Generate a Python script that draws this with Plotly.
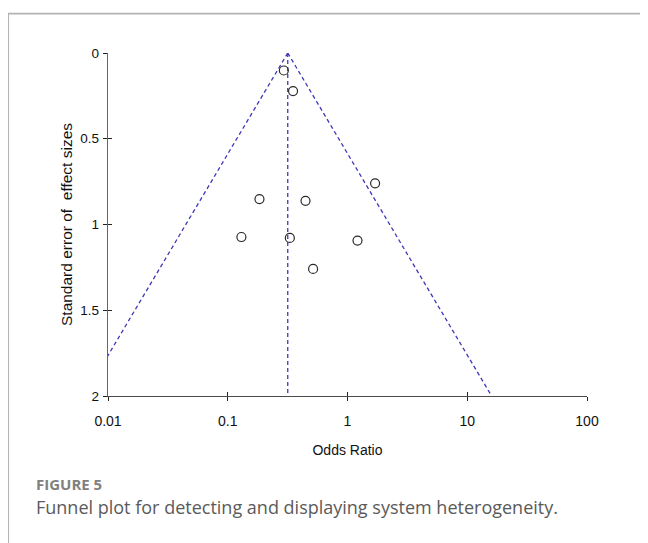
import plotly.graph_objects as go
import numpy as np

# ---- data ----
odds_ratio = [0.294, 0.351, 1.70, 0.184, 0.446, 0.130, 0.330, 1.212, 0.516]
std_error = [0.102, 0.222, 0.760, 0.852, 0.862, 1.073, 1.078, 1.094, 1.259]
pooled_or = 0.317
se_limits = [0.0, 2.0]
x_tick_vals = [0.01, 0.1, 1, 10, 100]
x_tick_text = ["0.01", "0.1", "1", "10", "100"]
y_tick_vals = [0, 0.5, 1, 1.5, 2]
y_tick_text = ["0", "0.5", "1", "1.5", "2"]

# funnel (95% pseudo-confidence limits)
z = 1.96
left_x = [pooled_or * np.exp(-z * s) for s in se_limits]
right_x = [pooled_or * np.exp(z * s) for s in se_limits]

line_col = "#3d38b8"
dash = "4px,3px"
axis_col = "#4a4a4a"
chart_font = "Liberation Sans, Arial, sans-serif"

fig = go.Figure()
for xs in (left_x, right_x, [pooled_or, pooled_or]):
    fig.add_trace(go.Scatter(x=xs, y=se_limits, mode="lines",
                             line=dict(color=line_col, width=1.3, dash=dash), hoverinfo="skip"))
fig.add_trace(go.Scatter(x=odds_ratio, y=std_error, mode="markers",
                         marker=dict(symbol="circle-open", size=9, color="#2a2a2a",
                                     line=dict(width=1.2, color="#2a2a2a"))))
# invisible trace on overlay axes (for inner half of crossing ticks)
fig.add_trace(go.Scatter(x=[1], y=[1], xaxis="x2", yaxis="y2", mode="markers",
                         marker=dict(opacity=0), hoverinfo="skip"))

OFF = 8  # page body margin
W, H = 648 - OFF, 543 - OFF
L, T = 108.3 - OFF, 52.5 - OFF
R = W - (587.5 - OFF)
B = H - (396.5 - OFF)
pw, ph = W - L - R, H - T - B

def px_x(p):  # screen pixel -> paper
    return (p - OFF - L) / pw

def px_y(p):
    return (H - B - (p - OFF)) / ph

common_x = dict(type="log", range=[-2, 2], tickmode="array", tickvals=x_tick_vals,
                showgrid=False, zeroline=False, ticklen=4, tickwidth=1.2, tickcolor="#222")
common_y = dict(range=[2, 0], tickmode="array", tickvals=y_tick_vals,
                showgrid=False, zeroline=False, ticklen=4, tickwidth=1.2, tickcolor="#222")

fig.update_layout(
    width=W, height=H,
    margin=dict(l=L, r=R, t=T, b=B, pad=0),
    paper_bgcolor="white", plot_bgcolor="white",
    showlegend=False,
    font=dict(family=chart_font, size=14, color="#111"),
    xaxis=dict(**common_x, ticktext=x_tick_text, ticks="outside",
               showline=True, linecolor=axis_col, linewidth=1.4,
               ticklabelstandoff=8,
               tickfont=dict(size=14, color="#111"),
               title=dict(text="Odds Ratio", font=dict(size=14, color="#111"), standoff=17)),
    yaxis=dict(**common_y, ticktext=y_tick_text, ticks="outside",
               showline=True, linecolor="#666", linewidth=1.4,
               ticklabelstandoff=1,
               tickfont=dict(size=13.5, color="#111"),
               title=dict(text="Standard error of\u00a0 effect sizes",
                          font=dict(size=15.5, color="#111"), standoff=3)),
    xaxis2=dict(**common_x, overlaying="x", anchor="y2", side="bottom", ticks="inside",
                showticklabels=False, showline=False),
    yaxis2=dict(**common_y, overlaying="y", anchor="x2", side="left", ticks="inside",
                showticklabels=False, showline=False),
)

# outer figure frame (top and left borders)
frame_col = "#b4b4b4"
fig.add_shape(type="line", xref="paper", yref="paper",
              x0=px_x(8), x1=px_x(700), y0=px_y(13), y1=px_y(13),
              line=dict(color=frame_col, width=1.6))
fig.add_shape(type="line", xref="paper", yref="paper",
              x0=px_x(8.5), x1=px_x(8.5), y0=px_y(13), y1=px_y(600),
              line=dict(color=frame_col, width=1.6))

# caption
fig.add_annotation(xref="paper", yref="paper", x=px_x(34), y=px_y(485),
                   xanchor="left", yanchor="middle", showarrow=False,
                   text="<b>FIGURE 5</b>",
                   font=dict(family="Open Sans, sans-serif", size=15, color="#808080"))
fig.add_annotation(xref="paper", yref="paper", x=px_x(34), y=px_y(508),
                   xanchor="left", yanchor="middle", showarrow=False,
                   text="Funnel plot for detecting and displaying system heterogeneity.",
                   font=dict(family="Open Sans, sans-serif", size=18, color="#5a5a5a"))

fig.write_html("out.html")
